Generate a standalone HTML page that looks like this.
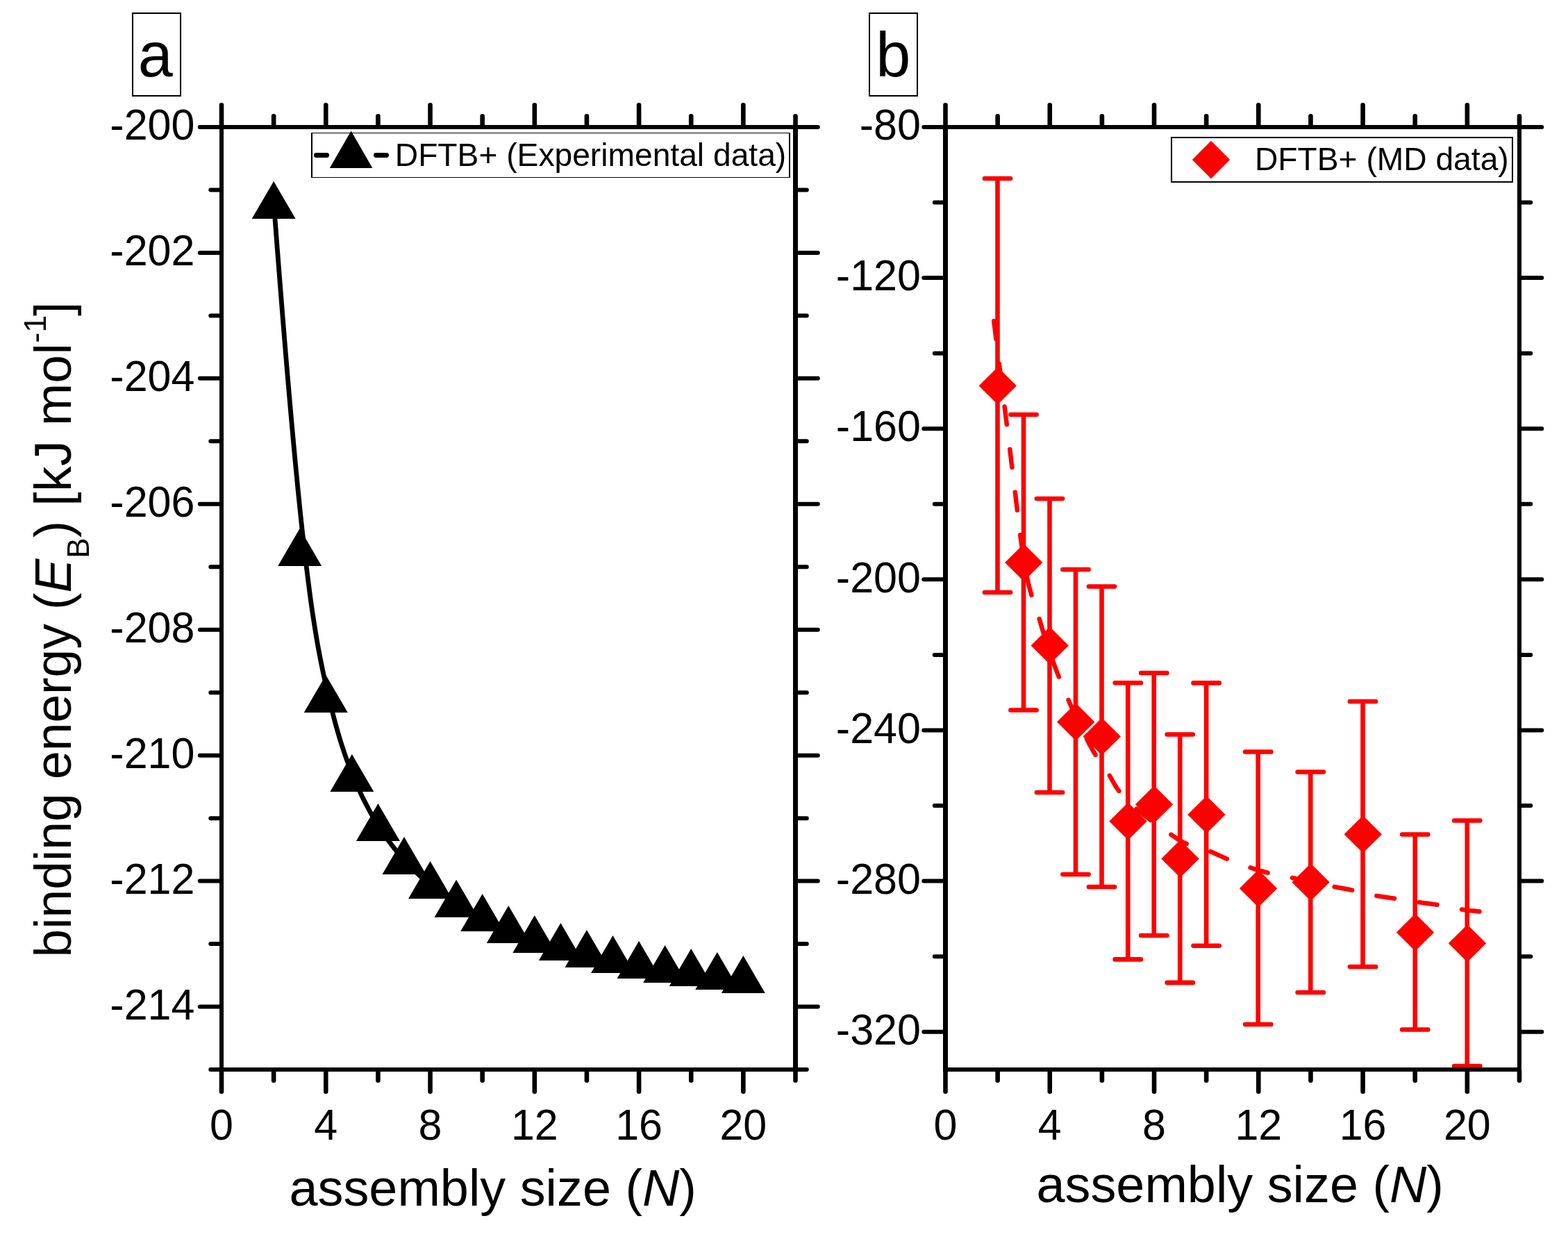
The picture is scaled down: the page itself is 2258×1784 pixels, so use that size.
<!DOCTYPE html>
<html lang="en"><head><meta charset="utf-8"><title>Binding energy vs assembly size</title>
<style>
html,body{margin:0;padding:0;background:#fff;}
body{width:2258px;height:1784px;overflow:hidden;}
svg{display:block;font-family:"Liberation Sans", sans-serif;fill:#000;}
</style></head><body>
<svg width="2258" height="1784" viewBox="0 0 2258 1784">
<rect width="2258" height="1784" fill="#fff"/>
<g id="panel-a">
<path d="M394.6 296.9 L399.1 355.4 L403.4 410.2 L407.5 461.4 L411.4 509.2 L415.2 553.8 L418.8 595.2 L422.3 633.7 L425.6 669.2 L428.8 702.1 L431.9 732.5 L434.8 760.3 L437.7 786.0 L440.4 809.4 L443.1 830.9 L445.6 850.5 L448.0 868.4 L450.4 884.7 L452.7 899.6 L454.9 913.2 L457.0 925.7 L459.1 937.1 L461.1 947.6 L463.1 957.5 L465.0 966.7 L466.9 975.5 L468.8 984.0 L470.6 992.1 L472.5 999.9 L474.3 1007.5 L476.0 1014.7 L477.7 1021.7 L479.5 1028.4 L481.2 1034.8 L482.8 1041.1 L484.5 1047.0 L486.1 1052.8 L487.7 1058.3 L489.3 1063.7 L490.9 1068.8 L492.5 1073.8 L494.1 1078.6 L495.6 1083.3 L497.2 1087.8 L498.7 1092.1 L500.2 1096.3 L501.8 1100.4 L503.3 1104.4 L504.8 1108.3 L506.3 1112.2 L507.8 1115.9 L509.3 1119.6 L510.8 1123.2 L512.4 1126.7 L513.9 1130.2 L515.4 1133.6 L516.9 1136.9 L518.4 1140.2 L519.9 1143.4 L521.4 1146.6 L522.9 1149.7 L524.4 1152.7 L526.0 1155.7 L527.5 1158.6 L529.0 1161.5 L530.5 1164.4 L532.0 1167.1 L533.5 1169.9 L535.0 1172.6 L536.5 1175.2 L538.1 1177.8 L539.6 1180.4 L541.1 1182.9 L542.6 1185.4 L544.1 1187.8 L545.6 1190.2 L547.1 1192.5 L548.6 1194.9 L550.2 1197.2 L551.7 1199.4 L553.2 1201.6 L554.7 1203.8 L556.2 1206.0 L557.7 1208.1 L559.2 1210.2 L560.7 1212.2 L562.3 1214.2 L563.8 1216.2 L565.3 1218.2 L566.8 1220.1 L568.3 1222.1 L569.8 1223.9 L571.3 1225.8 L572.8 1227.6 L574.3 1229.4 L575.9 1231.2 L577.4 1233.0 L578.9 1234.7 L580.4 1236.4 L581.9 1238.1 L583.4 1239.8 L584.9 1241.4 L586.4 1243.0 L588.0 1244.7 L589.5 1246.2 L591.0 1247.8 L592.5 1249.4 L594.0 1250.9 L595.5 1252.4 L597.0 1253.9 L598.5 1255.4 L600.1 1256.8 L601.6 1258.2 L603.1 1259.7 L604.6 1261.1 L606.1 1262.5 L607.6 1263.8 L609.1 1265.2 L610.6 1266.5 L612.2 1267.8 L613.7 1269.2 L615.2 1270.5 L616.7 1271.7 L618.2 1273.0 L619.7 1274.3 L621.2 1275.5 L622.7 1276.7 L624.3 1277.9 L625.8 1279.1 L627.3 1280.3 L628.8 1281.5 L630.3 1282.7 L631.8 1283.8 L633.3 1284.9 L634.8 1286.1 L636.3 1287.2 L637.9 1288.3 L639.4 1289.4 L640.9 1290.4 L642.4 1291.5 L643.9 1292.5 L645.4 1293.6 L646.9 1294.6 L648.4 1295.6 L650.0 1296.6 L651.5 1297.6 L653.0 1298.6 L654.5 1299.6 L656.0 1300.6 L657.5 1301.5 L659.0 1302.4 L660.5 1303.4 L662.1 1304.3 L663.6 1305.2 L665.1 1306.1 L666.6 1307.0 L668.1 1307.9 L669.6 1308.8 L671.1 1309.6 L672.6 1310.5 L678.8 1313.9 L684.9 1317.1 L691.0 1320.3 L697.1 1323.3 L703.2 1326.3 L709.3 1329.1 L715.4 1331.9 L721.5 1334.6 L727.7 1337.3 L733.8 1339.8 L739.9 1342.3 L746.0 1344.7 L752.1 1347.0 L758.2 1349.2 L764.3 1351.4 L770.4 1353.4 L776.6 1355.4 L782.7 1357.4 L788.8 1359.2 L794.9 1361.0 L801.0 1362.8 L807.1 1364.5 L813.2 1366.2 L819.3 1367.9 L825.5 1369.5 L831.6 1371.1 L837.7 1372.7 L843.8 1374.2 L849.9 1375.6 L856.0 1377.0 L862.1 1378.4 L868.3 1379.7 L874.4 1381.1 L880.5 1382.4 L886.6 1383.7 L892.7 1385.0 L898.8 1386.2 L904.9 1387.5 L911.0 1388.7 L917.2 1389.9 L923.3 1391.1 L929.4 1392.2 L935.5 1393.2 L941.6 1394.2 L947.7 1395.2 L953.8 1396.1 L959.9 1397.0 L966.1 1397.9 L972.3 1398.7 L978.8 1399.6 L985.5 1400.5 L992.5 1401.5 L1000.0 1402.5 L1008.0 1403.5 L1017.1 1404.7 L1027.5 1406.1 L1039.6 1407.7 L1053.9 1409.6 L1070.9 1411.9" fill="none" stroke="#000" stroke-width="6.8" stroke-linejoin="round" stroke-linecap="round"/>
<polygon points="394.14,260.90 362.64,314.90 425.64,314.90" fill="#000"/>
<polygon points="431.70,760.90 400.20,814.90 463.20,814.90" fill="#000"/>
<polygon points="469.27,971.90 437.77,1025.90 500.77,1025.90" fill="#000"/>
<polygon points="506.84,1085.90 475.34,1139.90 538.34,1139.90" fill="#000"/>
<polygon points="544.41,1156.90 512.91,1210.90 575.91,1210.90" fill="#000"/>
<polygon points="581.98,1204.90 550.48,1258.90 613.48,1258.90" fill="#000"/>
<polygon points="619.55,1239.90 588.05,1293.90 651.05,1293.90" fill="#000"/>
<polygon points="657.11,1266.65 625.61,1320.65 688.61,1320.65" fill="#000"/>
<polygon points="694.68,1286.90 663.18,1340.90 726.18,1340.90" fill="#000"/>
<polygon points="732.25,1303.90 700.75,1357.90 763.75,1357.90" fill="#000"/>
<polygon points="769.82,1317.90 738.32,1371.90 801.32,1371.90" fill="#000"/>
<polygon points="807.39,1328.90 775.89,1382.90 838.89,1382.90" fill="#000"/>
<polygon points="844.95,1338.90 813.45,1392.90 876.45,1392.90" fill="#000"/>
<polygon points="882.52,1346.90 851.02,1400.90 914.02,1400.90" fill="#000"/>
<polygon points="920.09,1354.90 888.59,1408.90 951.59,1408.90" fill="#000"/>
<polygon points="957.66,1360.90 926.16,1414.90 989.16,1414.90" fill="#000"/>
<polygon points="995.23,1365.90 963.73,1419.90 1026.73,1419.90" fill="#000"/>
<polygon points="1032.80,1370.90 1001.30,1424.90 1064.30,1424.90" fill="#000"/>
<polygon points="1070.36,1375.90 1038.86,1429.90 1101.86,1429.90" fill="#000"/>
<path d="M448 191H1138V256H448ZM450 192V255H1136V192Z" fill="#000" fill-rule="evenodd" shape-rendering="crispEdges"/>
<line x1="455.40" y1="223.50" x2="470.60" y2="223.50" stroke="#000" stroke-width="6.8" stroke-linecap="round" />
<line x1="541.40" y1="223.50" x2="556.60" y2="223.50" stroke="#000" stroke-width="6.8" stroke-linecap="round" />
<polygon points="505.6,188.6 474.8,241.9 536.4,241.9" fill="#000"/>
<text x="568.80" y="239.00" font-size="46.2" text-anchor="start" >DFTB+ (Experimental data)</text>
<g fill="#000" shape-rendering="crispEdges">
<rect x="316" y="180" width="6" height="1363"/>
<rect x="1142" y="180" width="7" height="1363"/>
<rect x="316" y="180" width="833" height="6"/>
<rect x="316" y="1537" width="833" height="6"/>
</g>
<g stroke="#000" stroke-width="6.6" stroke-linecap="round" fill="none">
<path d="M319.00 180.50V151.30M319.00 1542.50V1571.70M469.27 180.50V151.30M469.27 1542.50V1571.70M619.55 180.50V151.30M619.55 1542.50V1571.70M769.82 180.50V151.30M769.82 1542.50V1571.70M920.09 180.50V151.30M920.09 1542.50V1571.70M1070.36 180.50V151.30M1070.36 1542.50V1571.70M394.14 180.50V167.30M394.14 1542.50V1555.70M544.41 180.50V167.30M544.41 1542.50V1555.70M694.68 180.50V167.30M694.68 1542.50V1555.70M844.95 180.50V167.30M844.95 1542.50V1555.70M995.23 180.50V167.30M995.23 1542.50V1555.70M1145.50 180.50V167.30M1145.50 1542.50V1555.70"/>
</g>
<g stroke="#000" stroke-width="6.0" stroke-linecap="round" fill="none">
<path d="M316.50 1449.53H287.80M1148.50 1449.53H1177.80M316.50 1268.60H287.80M1148.50 1268.60H1177.80M316.50 1087.67H287.80M1148.50 1087.67H1177.80M316.50 906.73H287.80M1148.50 906.73H1177.80M316.50 725.80H287.80M1148.50 725.80H1177.80M316.50 544.87H287.80M1148.50 544.87H1177.80M316.50 363.93H287.80M1148.50 363.93H1177.80M316.50 183.00H287.80M1148.50 183.00H1177.80M316.50 1540.00H303.30M1148.50 1540.00H1161.80M316.50 1359.07H303.30M1148.50 1359.07H1161.80M316.50 1178.13H303.30M1148.50 1178.13H1161.80M316.50 997.20H303.30M1148.50 997.20H1161.80M316.50 816.27H303.30M1148.50 816.27H1161.80M316.50 635.33H303.30M1148.50 635.33H1161.80M316.50 454.40H303.30M1148.50 454.40H1161.80M316.50 273.47H303.30M1148.50 273.47H1161.80"/>
</g>
<text transform="translate(280.40,1467.73) scale(1,1.03)" font-size="61" text-anchor="end" >-214</text>
<text transform="translate(280.40,1286.80) scale(1,1.03)" font-size="61" text-anchor="end" >-212</text>
<text transform="translate(280.40,1105.87) scale(1,1.03)" font-size="61" text-anchor="end" >-210</text>
<text transform="translate(280.40,924.93) scale(1,1.03)" font-size="61" text-anchor="end" >-208</text>
<text transform="translate(280.40,744.00) scale(1,1.03)" font-size="61" text-anchor="end" >-206</text>
<text transform="translate(280.40,563.07) scale(1,1.03)" font-size="61" text-anchor="end" >-204</text>
<text transform="translate(280.40,382.13) scale(1,1.03)" font-size="61" text-anchor="end" >-202</text>
<text transform="translate(280.40,201.20) scale(1,1.03)" font-size="61" text-anchor="end" >-200</text>
<text transform="translate(319.00,1641.20) scale(1,1.03)" font-size="61" text-anchor="middle" >0</text>
<text transform="translate(469.27,1641.20) scale(1,1.03)" font-size="61" text-anchor="middle" >4</text>
<text transform="translate(619.55,1641.20) scale(1,1.03)" font-size="61" text-anchor="middle" >8</text>
<text transform="translate(769.82,1641.20) scale(1,1.03)" font-size="61" text-anchor="middle" >12</text>
<text transform="translate(920.09,1641.20) scale(1,1.03)" font-size="61" text-anchor="middle" >16</text>
<text transform="translate(1070.36,1641.20) scale(1,1.03)" font-size="61" text-anchor="middle" >20</text>
<text x="416.50" y="1736.40" font-size="73.8" text-anchor="start" >assembly size (<tspan font-style="italic">N</tspan>)</text>
<text transform="translate(102.3,1378.4) rotate(-90)" font-size="73.2">binding energy (<tspan font-style="italic">E</tspan><tspan font-size="44" dy="25.5" dx="1">B</tspan><tspan dy="-25.5" letter-spacing="0.45">) [kJ mol</tspan><tspan font-size="45" dy="-36.5">-1</tspan><tspan dy="36.5" dx="-1.2">]</tspan></text>
<path d="M190 18H261V139H190ZM192 20V137H259V20Z" fill="#000" fill-rule="evenodd" shape-rendering="crispEdges"/>
<text x="198.80" y="110.20" font-size="90" text-anchor="start" >a</text>
</g>
<g id="panel-b">
<path d="M1431.2 462.2 L1431.7 466.5 L1432.3 470.7 L1432.8 474.9 L1433.3 479.1 L1433.8 483.3 L1434.4 487.5 L1434.9 491.7 L1435.4 495.9 L1436.0 500.1 L1436.5 504.3 L1437.0 508.5 L1437.5 512.7 L1438.1 516.9 L1438.6 521.1 L1439.1 525.3 L1439.6 529.5 L1440.2 533.7 L1440.7 537.9 L1441.2 542.1 L1441.7 546.3 L1442.3 550.5 L1442.8 554.8 L1443.3 559.0 L1443.8 563.2 L1444.4 567.4 L1444.9 571.6 L1445.4 575.8 L1445.9 580.0 L1446.4 584.2 L1447.0 588.4 L1447.5 592.6 L1448.0 596.8 L1448.5 601.0 L1449.1 605.2 L1449.6 609.4 L1450.1 613.6 L1450.6 617.8 L1451.1 622.0 L1451.7 626.2 L1452.2 630.4 L1452.7 634.7 L1453.2 638.9 L1453.7 643.1 L1454.3 647.3 L1454.8 651.5 L1455.3 655.7 L1455.8 659.9 L1456.3 664.1 L1456.8 668.3 L1457.4 672.5 L1457.9 676.7 L1458.4 680.9 L1458.9 685.1 L1459.4 689.3 L1459.9 693.5 L1460.5 697.7 L1461.0 701.9 L1461.5 706.2 L1462.0 710.4 L1462.5 714.6 L1463.0 718.8 L1463.5 723.0 L1464.0 727.2 L1464.5 731.4 L1465.0 735.6 L1465.5 739.8 L1466.0 744.0 L1466.5 748.2 L1467.0 752.5 L1467.5 756.7 L1468.0 760.9 L1468.6 765.1 L1469.1 769.3 L1469.6 773.5 L1470.2 777.7 L1470.8 781.9 L1471.3 786.1 L1471.9 790.3 L1472.5 794.5 L1473.2 798.6 L1473.8 802.8 L1474.5 807.0 L1475.2 811.2 L1475.9 815.4 L1476.7 819.5 L1477.5 823.7 L1478.3 827.9 L1479.2 832.0 L1480.1 836.1 L1481.0 840.3 L1482.0 844.4 L1483.1 848.5 L1484.2 852.6 L1485.3 856.7 L1486.5 860.8 L1487.7 864.8 L1489.0 868.8 L1490.4 872.8 L1491.8 876.8 L1493.2 880.8 L1494.6 884.9 L1495.9 888.9 L1497.2 892.9 L1498.4 897.0 L1499.6 901.1 L1500.7 905.1 L1502.0 909.2 L1503.2 913.2 L1504.5 917.3 L1505.8 921.3 L1507.1 925.3 L1508.4 929.4 L1509.8 933.4 L1511.2 937.4 L1512.5 941.4 L1513.9 945.4 L1515.4 949.4 L1516.8 953.4 L1518.3 957.4 L1519.7 961.4 L1521.2 965.3 L1522.7 969.3 L1524.3 973.2 L1525.9 977.1 L1527.4 981.1 L1529.0 985.0 L1530.6 988.9 L1532.2 992.8 L1533.9 996.8 L1535.5 1000.7 L1537.1 1004.6 L1538.8 1008.5 L1540.5 1012.4 L1542.2 1016.3 L1543.9 1020.2 L1545.7 1024.1 L1547.4 1028.0 L1549.2 1031.9 L1551.0 1035.7 L1552.8 1039.6 L1554.6 1043.4 L1556.5 1047.2 L1558.3 1051.1 L1560.2 1054.9 L1562.1 1058.6 L1564.1 1062.4 L1566.0 1066.2 L1568.0 1069.9 L1570.0 1073.6 L1572.1 1077.3 L1574.1 1081.0 L1576.2 1084.6 L1578.3 1088.2 L1580.6 1091.8 L1583.0 1095.3 L1585.4 1098.8 L1587.9 1102.2 L1590.4 1105.7 L1592.8 1109.1 L1595.2 1112.7 L1597.5 1116.2 L1599.7 1119.9 L1601.8 1123.7 L1603.9 1127.4 L1606.0 1131.1 L1608.3 1134.6 L1610.7 1138.0 L1613.2 1141.2 L1615.9 1144.3 L1618.7 1147.4 L1621.5 1150.4 L1624.5 1153.4 L1627.5 1156.3 L1630.6 1159.2 L1633.8 1162.1 L1637.0 1164.9 L1640.2 1167.7 L1643.6 1170.4 L1646.9 1173.1 L1650.3 1175.8 L1653.8 1178.4 L1657.2 1181.0 L1660.7 1183.6 L1664.2 1186.1 L1667.7 1188.6 L1671.2 1191.1 L1674.7 1193.5 L1678.2 1196.0 L1681.7 1198.4 L1685.1 1200.8 L1688.6 1203.2 L1692.2 1205.6 L1695.8 1208.0 L1699.4 1210.2 L1703.1 1212.3 L1706.8 1214.1 L1710.7 1215.8 L1714.6 1217.2 L1718.6 1218.5 L1722.7 1219.8 L1726.8 1220.9 L1730.9 1222.1 L1735.0 1223.3 L1739.0 1224.6 L1743.0 1226.1 L1746.9 1227.7 L1750.8 1229.4 L1754.7 1231.2 L1758.5 1232.9 L1762.4 1234.7 L1766.3 1236.4 L1770.2 1238.0 L1774.1 1239.6 L1778.1 1241.1 L1782.0 1242.6 L1786.0 1244.1 L1790.0 1245.6 L1794.0 1247.0 L1798.0 1248.4 L1802.0 1249.7 L1806.0 1251.0 L1810.1 1252.3 L1814.1 1253.6 L1818.2 1254.7 L1822.3 1255.9 L1826.4 1256.9 L1830.5 1257.9 L1834.6 1258.8 L1838.8 1259.6 L1842.9 1260.4 L1847.1 1261.2 L1851.3 1262.0 L1855.4 1262.8 L1859.6 1263.7 L1863.7 1264.5 L1867.9 1265.4 L1872.0 1266.3 L1876.2 1267.2 L1880.3 1268.1 L1884.5 1269.0 L1888.6 1269.9 L1892.7 1270.8 L1896.9 1271.7 L1901.0 1272.5 L1905.2 1273.4 L1909.3 1274.3 L1913.5 1275.2 L1917.6 1276.0 L1921.8 1276.9 L1925.9 1277.7 L1930.1 1278.4 L1934.3 1279.2 L1938.4 1280.0 L1942.6 1280.8 L1946.7 1281.6 L1950.9 1282.5 L1955.0 1283.5 L1959.1 1284.5 L1963.2 1285.5 L1967.4 1286.6 L1971.5 1287.6 L1975.6 1288.5 L1979.8 1289.4 L1983.9 1290.1 L1988.1 1290.8 L1992.3 1291.4 L1996.5 1292.0 L2000.7 1292.6 L2004.9 1293.2 L2009.1 1293.8 L2013.3 1294.4 L2017.5 1295.1 L2021.6 1295.8 L2025.8 1296.5 L2030.0 1297.1 L2034.2 1297.8 L2038.4 1298.4 L2042.6 1299.1 L2046.8 1299.6 L2051.0 1300.2 L2055.2 1300.7 L2059.4 1301.3 L2063.6 1301.9 L2067.8 1302.5 L2072.0 1303.1 L2076.1 1303.9 L2080.3 1304.7 L2084.4 1305.5 L2088.6 1306.4 L2092.7 1307.3 L2096.9 1308.1 L2101.1 1308.8 L2105.3 1309.5 L2109.4 1310.1 L2113.6 1310.6 L2117.8 1311.2 L2122.1 1311.6 L2126.3 1312.1 L2130.5 1312.5" fill="none" stroke="#ff0000" stroke-width="6.5" stroke-linecap="round" stroke-linejoin="round" stroke-dasharray="26 36.1"/>
<path d="M1436.50 257.00V853.00M1417.90 257.00h37.2M1417.90 853.00h37.2" stroke="#ff0000" stroke-width="6.6" stroke-linecap="round" fill="none"/>
<path d="M1474.00 597.00V1022.50M1455.40 597.00h37.2M1455.40 1022.50h37.2" stroke="#ff0000" stroke-width="6.6" stroke-linecap="round" fill="none"/>
<path d="M1511.50 718.00V1141.00M1492.90 718.00h37.2M1492.90 1141.00h37.2" stroke="#ff0000" stroke-width="6.6" stroke-linecap="round" fill="none"/>
<path d="M1549.00 820.00V1259.00M1530.40 820.00h37.2M1530.40 1259.00h37.2" stroke="#ff0000" stroke-width="6.6" stroke-linecap="round" fill="none"/>
<path d="M1586.50 844.50V1277.00M1567.90 844.50h37.2M1567.90 1277.00h37.2" stroke="#ff0000" stroke-width="6.6" stroke-linecap="round" fill="none"/>
<path d="M1624.25 983.25V1381.40M1605.65 983.25h37.2M1605.65 1381.40h37.2" stroke="#ff0000" stroke-width="6.6" stroke-linecap="round" fill="none"/>
<path d="M1661.75 969.00V1347.00M1643.15 969.00h37.2M1643.15 1347.00h37.2" stroke="#ff0000" stroke-width="6.6" stroke-linecap="round" fill="none"/>
<path d="M1699.25 1057.50V1414.90M1680.65 1057.50h37.2M1680.65 1414.90h37.2" stroke="#ff0000" stroke-width="6.6" stroke-linecap="round" fill="none"/>
<path d="M1737.15 983.40V1361.70M1718.55 983.40h37.2M1718.55 1361.70h37.2" stroke="#ff0000" stroke-width="6.6" stroke-linecap="round" fill="none"/>
<path d="M1811.75 1082.50V1475.00M1793.15 1082.50h37.2M1793.15 1475.00h37.2" stroke="#ff0000" stroke-width="6.6" stroke-linecap="round" fill="none"/>
<path d="M1887.25 1111.50V1429.00M1868.65 1111.50h37.2M1868.65 1429.00h37.2" stroke="#ff0000" stroke-width="6.6" stroke-linecap="round" fill="none"/>
<path d="M1962.50 1010.00V1392.00M1943.90 1010.00h37.2M1943.90 1392.00h37.2" stroke="#ff0000" stroke-width="6.6" stroke-linecap="round" fill="none"/>
<path d="M2037.75 1201.50V1482.50M2019.15 1201.50h37.2M2019.15 1482.50h37.2" stroke="#ff0000" stroke-width="6.6" stroke-linecap="round" fill="none"/>
<path d="M2112.75 1181.50V1535.00M2094.15 1181.50h37.2M2094.15 1535.00h37.2" stroke="#ff0000" stroke-width="6.6" stroke-linecap="round" fill="none"/>
<polygon points="1436.75,528.50 1463.95,555.50 1436.75,582.50 1409.55,555.50" fill="#ff0000"/>
<polygon points="1474.25,783.00 1501.45,810.00 1474.25,837.00 1447.05,810.00" fill="#ff0000"/>
<polygon points="1511.75,902.50 1538.95,929.50 1511.75,956.50 1484.55,929.50" fill="#ff0000"/>
<polygon points="1549.25,1012.50 1576.45,1039.50 1549.25,1066.50 1522.05,1039.50" fill="#ff0000"/>
<polygon points="1586.75,1033.50 1613.95,1060.50 1586.75,1087.50 1559.55,1060.50" fill="#ff0000"/>
<polygon points="1624.50,1155.50 1651.70,1182.50 1624.50,1209.50 1597.30,1182.50" fill="#ff0000"/>
<polygon points="1662.00,1131.25 1689.20,1158.25 1662.00,1185.25 1634.80,1158.25" fill="#ff0000"/>
<polygon points="1699.50,1209.40 1726.70,1236.40 1699.50,1263.40 1672.30,1236.40" fill="#ff0000"/>
<polygon points="1737.40,1146.00 1764.60,1173.00 1737.40,1200.00 1710.20,1173.00" fill="#ff0000"/>
<polygon points="1812.00,1252.20 1839.20,1279.20 1812.00,1306.20 1784.80,1279.20" fill="#ff0000"/>
<polygon points="1887.50,1243.30 1914.70,1270.30 1887.50,1297.30 1860.30,1270.30" fill="#ff0000"/>
<polygon points="1962.75,1174.25 1989.95,1201.25 1962.75,1228.25 1935.55,1201.25" fill="#ff0000"/>
<polygon points="2038.00,1315.50 2065.20,1342.50 2038.00,1369.50 2010.80,1342.50" fill="#ff0000"/>
<polygon points="2113.00,1331.25 2140.20,1358.25 2113.00,1385.25 2085.80,1358.25" fill="#ff0000"/>
<rect x="1687" y="198" width="491" height="64" fill="none" stroke="#000" stroke-width="2" shape-rendering="crispEdges"/>
<polygon points="1744,202.8 1771.2,230 1744,257.2 1716.8,230" fill="#ff0000"/>
<text x="1807.00" y="245.00" font-size="46.2" text-anchor="start" >DFTB+ (MD data)</text>
<g fill="#000" shape-rendering="crispEdges">
<rect x="1358" y="180" width="7" height="1363"/>
<rect x="2185" y="180" width="6" height="1363"/>
<rect x="1358" y="180" width="833" height="6"/>
<rect x="1358" y="1537" width="833" height="6"/>
</g>
<g stroke="#000" stroke-width="6.6" stroke-linecap="round" fill="none">
<path d="M1361.50 180.50V151.30M1361.50 1542.50V1571.70M1511.77 180.50V151.30M1511.77 1542.50V1571.70M1662.05 180.50V151.30M1662.05 1542.50V1571.70M1812.32 180.50V151.30M1812.32 1542.50V1571.70M1962.59 180.50V151.30M1962.59 1542.50V1571.70M2112.86 180.50V151.30M2112.86 1542.50V1571.70M1436.64 180.50V167.30M1436.64 1542.50V1555.70M1586.91 180.50V167.30M1586.91 1542.50V1555.70M1737.18 180.50V167.30M1737.18 1542.50V1555.70M1887.45 180.50V167.30M1887.45 1542.50V1555.70M2037.73 180.50V167.30M2037.73 1542.50V1555.70M2188.00 180.50V167.30M2188.00 1542.50V1555.70"/>
</g>
<g stroke="#000" stroke-width="6.0" stroke-linecap="round" fill="none">
<path d="M1358.50 1485.72H1330.30M2190.50 1485.72H2220.30M1358.50 1268.60H1330.30M2190.50 1268.60H2220.30M1358.50 1051.48H1330.30M2190.50 1051.48H2220.30M1358.50 834.36H1330.30M2190.50 834.36H2220.30M1358.50 617.24H1330.30M2190.50 617.24H2220.30M1358.50 400.12H1330.30M2190.50 400.12H2220.30M1358.50 183.00H1330.30M2190.50 183.00H2220.30M1358.50 1377.16H1345.80M2190.50 1377.16H2204.30M1358.50 1160.04H1345.80M2190.50 1160.04H2204.30M1358.50 942.92H1345.80M2190.50 942.92H2204.30M1358.50 725.80H1345.80M2190.50 725.80H2204.30M1358.50 508.68H1345.80M2190.50 508.68H2204.30M1358.50 291.56H1345.80M2190.50 291.56H2204.30"/>
</g>
<text transform="translate(1325.90,1503.92) scale(1,1.03)" font-size="61" text-anchor="end" >-320</text>
<text transform="translate(1325.90,1286.80) scale(1,1.03)" font-size="61" text-anchor="end" >-280</text>
<text transform="translate(1325.90,1069.68) scale(1,1.03)" font-size="61" text-anchor="end" >-240</text>
<text transform="translate(1325.90,852.56) scale(1,1.03)" font-size="61" text-anchor="end" >-200</text>
<text transform="translate(1325.90,635.44) scale(1,1.03)" font-size="61" text-anchor="end" >-160</text>
<text transform="translate(1325.90,418.32) scale(1,1.03)" font-size="61" text-anchor="end" >-120</text>
<text transform="translate(1325.90,201.20) scale(1,1.03)" font-size="61" text-anchor="end" >-80</text>
<text transform="translate(1361.50,1641.20) scale(1,1.03)" font-size="61" text-anchor="middle" >0</text>
<text transform="translate(1511.77,1641.20) scale(1,1.03)" font-size="61" text-anchor="middle" >4</text>
<text transform="translate(1662.05,1641.20) scale(1,1.03)" font-size="61" text-anchor="middle" >8</text>
<text transform="translate(1812.32,1641.20) scale(1,1.03)" font-size="61" text-anchor="middle" >12</text>
<text transform="translate(1962.59,1641.20) scale(1,1.03)" font-size="61" text-anchor="middle" >16</text>
<text transform="translate(2112.86,1641.20) scale(1,1.03)" font-size="61" text-anchor="middle" >20</text>
<text x="1492.50" y="1730.90" font-size="73.8" text-anchor="start" >assembly size (<tspan font-style="italic">N</tspan>)</text>
<path d="M1251 18H1322V139H1251ZM1253 20V137H1320V20Z" fill="#000" fill-rule="evenodd" shape-rendering="crispEdges"/>
<text x="1261.20" y="110.20" font-size="90" text-anchor="start" >b</text>
</g>
</svg>
</body></html>
